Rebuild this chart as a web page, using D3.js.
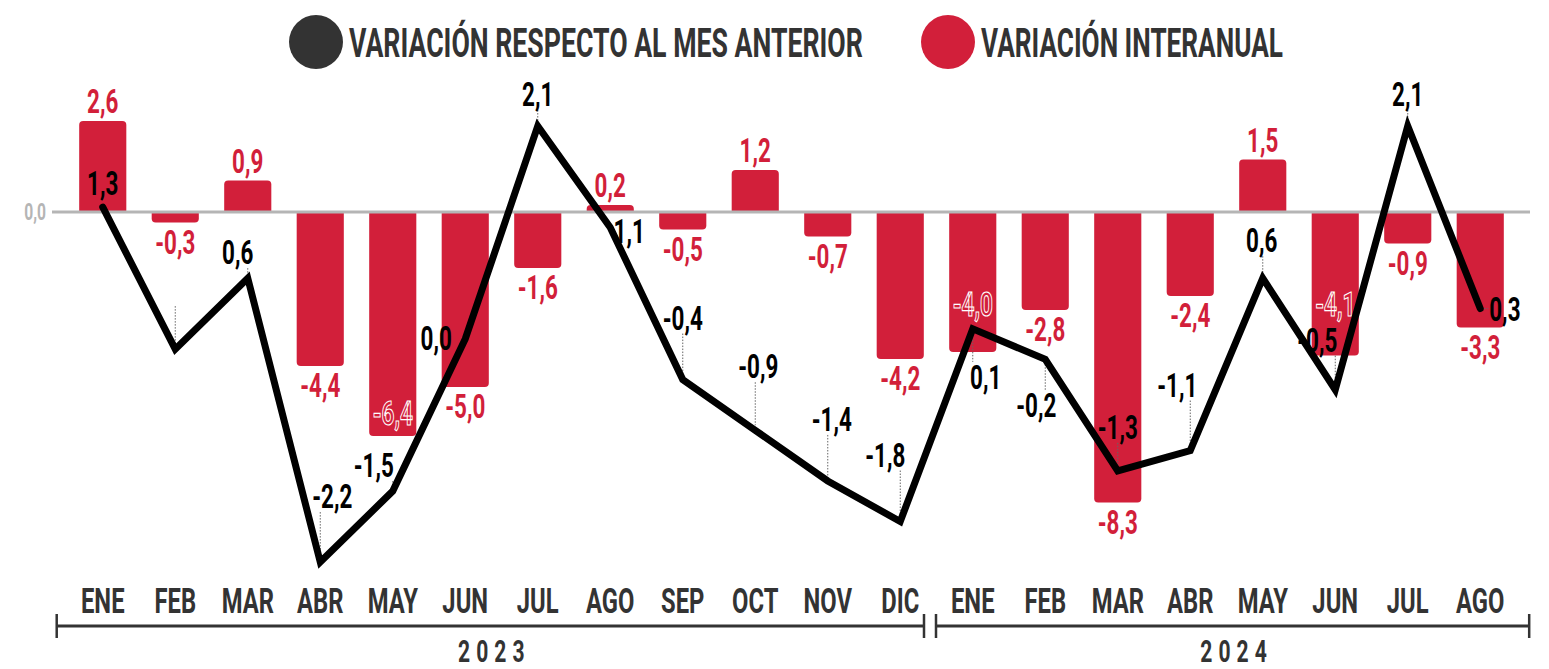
<!DOCTYPE html>
<html>
<head>
  <meta charset="utf-8"><script src="https://d3js.org/d3.v7.min.js"></script>
  <style>
    body { margin: 0; background: white; }
    text { font-family: Roboto, sans-serif; font-weight: 700; }
  </style>
</head>
<body>
<svg id="mychart" width="1549" height="669" style="background: white"></svg>
<script>
  // datos
  const months = ["ENE","FEB","MAR","ABR","MAY","JUN","JUL","AGO","SEP","OCT","NOV","DIC",
                  "ENE","FEB","MAR","ABR","MAY","JUN","JUL","AGO"]
  const years = ["2023", "2024"]
  const interanual = [2.6,-0.3,0.9,-4.4,-6.4,-5.0,-1.6,0.2,-0.5,1.2,-0.7,-4.2,
                      -4.0,-2.8,-8.3,-2.4,1.5,-4.1,-0.9,-3.3]
  const mensual = [1.3,-0.1,0.6,-2.2,-1.5,0.0,2.1,1.1,-0.4,-0.9,-1.4,-1.8,
                   0.1,-0.2,-1.3,-1.1,0.6,-0.5,2.1,0.3]
  const hiddenLabels = [1]
  const legend = ["VARIACIÓN RESPECTO AL MES ANTERIOR", "VARIACIÓN INTERANUAL"]

  // label placement (dx, dy from the point; "n" = no leader, "r" = right side)
  const lineLabelAt = [
    [0,-12,"n"],[0,-47],[-10,-14],[12,-54],[-19,-14],[-29,11,"n"],[0,-20],[19,16,"n"],
    [0,-50],[3,-52],[4,-50],[-15,-55],[13,60],[-9,58],[0,-32],[-13,-54],[-1,-26],[-18,-38],
    [0,-20],[9,12,"r"]]
  const barInside = {4: -11, 12: -36, 17: -40}

  const red = "#d21f3a", dark = "#333333", squeeze = 0.68
  const fmt = v => v.toFixed(1).replace(".", ",")

  const svg = d3.select("#mychart")
  const idx = d3.range(months.length)

  const x = d3.scaleBand().domain(idx).range([66.5, 1516.5]).paddingInner(0.35).paddingOuter(0.175)
  const cx = i => x(i) + x.bandwidth() / 2
  const yBar = d3.scaleLinear().domain([0, 1]).range([212, 177])
  const yLine = d3.scaleLinear().domain([0, 1]).range([339, 237.6])

  function ctext(g, str, px, py, size, fill, anchor, sq) {
    return g.append("text")
      .attr("transform", `translate(${px},${py}) scale(${sq || squeeze},1)`)
      .attr("text-anchor", anchor || "middle")
      .attr("font-size", size)
      .attr("fill", fill)
      .text(str)
  }

  // legend
  const lg = svg.append("g")
  lg.append("circle").attr("cx", 316).attr("cy", 42).attr("r", 27).attr("fill", dark)
  ctext(lg, legend[0], 349, 57, 40, dark, "start", 0.667)
  lg.append("circle").attr("cx", 948).attr("cy", 42).attr("r", 27).attr("fill", red)
  ctext(lg, legend[1], 981, 57, 40, dark, "start", 0.655)

  // bars
  function barPath(x0, w, y0, y1) {
    const r = Math.min(4, Math.abs(y1 - y0)), s = y1 < y0 ? 1 : -1
    return `M${x0},${y0}V${y1 + s * r}Q${x0},${y1} ${x0 + r},${y1}H${x0 + w - r}` +
           `Q${x0 + w},${y1} ${x0 + w},${y1 + s * r}V${y0}Z`
  }
  svg.append("g").selectAll("path").data(idx).join("path")
    .attr("fill", red)
    .attr("d", i => barPath(x(i), x.bandwidth(), yBar(0), yBar(interanual[i])))

  // zero line
  svg.append("line").attr("x1", 52).attr("x2", 1530).attr("y1", yBar(0)).attr("y2", yBar(0))
    .attr("stroke", "#b5b5b5").attr("stroke-width", 3)
  ctext(svg, fmt(0), 46, yBar(0) + 8, 23, "#b5b5b5", "end")

  // bar labels
  const bl = svg.append("g")
  idx.forEach(i => {
    const v = interanual[i]
    let by = v >= 0 ? yBar(v) - 8 : yBar(v) + 31
    const t = ctext(bl, fmt(v), cx(i), by, 33, red)
    if (barInside[i] !== undefined) {
      t.attr("transform", `translate(${cx(i)},${yBar(v) + barInside[i]}) scale(${squeeze},1)`)
        .attr("stroke", "white").attr("stroke-width", 1.2)
    }
  })

  // leaders
  const ld = svg.append("g").attr("stroke", "#666").attr("stroke-width", 1).attr("stroke-dasharray", "1.5,1.5")
  idx.forEach(i => {
    const [dx, dy, k] = lineLabelAt[i]
    const px = cx(i), py = yLine(mensual[i])
    if (k === "n") return
    if (k === "r") { ld.append("line").attr("x1", px + 4).attr("x2", px + dx - 1).attr("y1", py).attr("y2", py); return }
    if (dy < 0) ld.append("line").attr("x1", px).attr("x2", px).attr("y1", py + dy + 4).attr("y2", py - 5)
    else ld.append("line").attr("x1", px).attr("x2", px).attr("y1", py + 5).attr("y2", py + dy - 27)
  })

  // monthly line
  const line = d3.line().x(i => cx(i)).y(i => yLine(mensual[i]))
  svg.append("path").datum(idx)
    .attr("fill", "none").attr("stroke", "black").attr("stroke-width", 7)
    .attr("stroke-linejoin", "miter").attr("stroke-linecap", "round")
    .attr("d", line)

  // line labels
  const ll = svg.append("g")
  idx.forEach(i => {
    if (hiddenLabels.includes(i)) return
    const [dx, dy, k] = lineLabelAt[i]
    ctext(ll, fmt(mensual[i]), cx(i) + dx, yLine(mensual[i]) + dy, 33, "black", k === "r" ? "start" : "middle")
  })

  // month axis
  const ax = svg.append("g")
  idx.forEach(i => ctext(ax, months[i], cx(i), 613, 35, dark))

  const step = x.step()
  const mid = (cx(11) + cx(12)) / 2
  const edges = [
    [cx(0) - step * 0.635, mid - 12.5],
    [mid - 0.5, cx(months.length - 1) + step * 0.675]
  ]
  edges.forEach(([a, b], j) => {
    ax.append("line").attr("x1", a).attr("x2", b).attr("y1", 626).attr("y2", 626)
      .attr("stroke", dark).attr("stroke-width", 3)
    ;[a, b].forEach(t => ax.append("line").attr("x1", t).attr("x2", t).attr("y1", 614).attr("y2", 638)
      .attr("stroke", dark).attr("stroke-width", 2.5))
    ctext(ax, years[j], (a + b) / 2 + 4, 662, 31, dark).attr("letter-spacing", 9)
  })
</script>
</body>
</html>
